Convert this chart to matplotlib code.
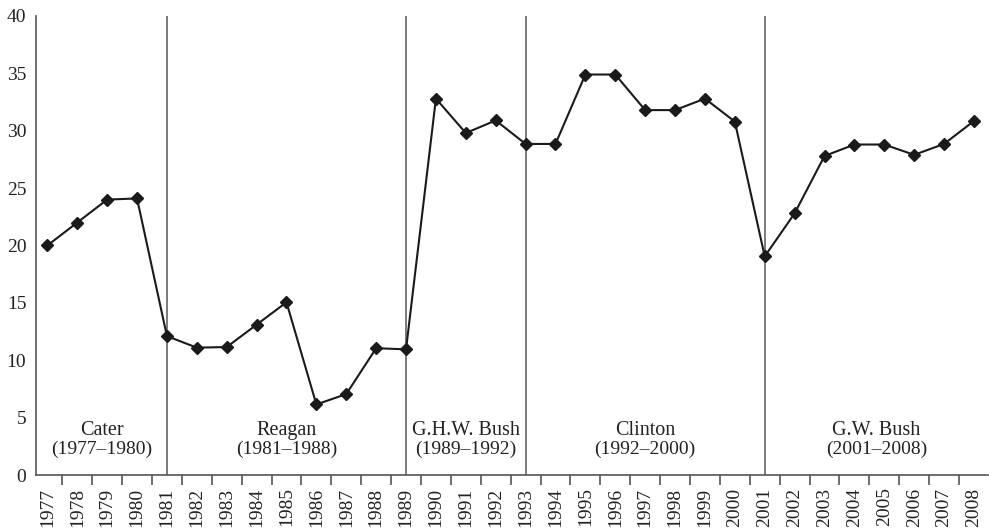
import matplotlib
matplotlib.use("Agg")
import matplotlib.pyplot as plt
import numpy as np

years = list(range(1977, 2009))
values = [20.0, 22.0, 24.0, 24.1,
          12.1, 11.1, 11.15, 13.1, 15.05, 6.15, 7.05, 11.05,
          10.95, 32.8, 29.8, 30.9,
          28.85, 28.85, 34.9, 34.9, 31.8, 31.8, 32.8, 30.8,
          19.05, 22.8, 27.8, 28.8, 28.8, 27.9, 28.85, 30.85]
boundaries = [1981, 1989, 1993, 2001]
presidents = ["Cater", "Reagan", "G.H.W. Bush", "Clinton", "G.W. Bush"]
terms = ["(1977–1980)", "(1981–1988)", "(1989–1992)", "(1992–2000)", "(2001–2008)"]
yticks = [0, 5, 10, 15, 20, 25, 30, 35, 40]

plt.rcParams['font.family'] = ['Liberation Serif', 'DejaVu Serif']

fig = plt.figure(figsize=(9.89, 5.30), dpi=100)
ax = fig.add_axes([36/989, 1-475/530, (988-36)/989, (475-16)/530])

xmin, xmax = 1976.62, 2008.47
ax.set_xlim(xmin, xmax)
ax.set_ylim(0, 40)

for b in boundaries:
    ax.plot([b, b], [0, 40], color='#707070', lw=1.3, zorder=1)

ax.plot(years, values, color='#1a1a1a', lw=1.5, marker='D', markersize=6,
        markerfacecolor='#1a1a1a', markeredgecolor='#1a1a1a', zorder=3)

edges = [xmin] + boundaries + [xmax]
for i, (name, term) in enumerate(zip(presidents, terms)):
    cx = (edges[i] + edges[i+1]) / 2
    ax.text(cx, 3.85, name, ha='center', va='center', fontsize=14.5, color='#222222')
    ax.text(cx, 2.2, term, ha='center', va='center', fontsize=14, color='#222222')

for s in ['top', 'right']:
    ax.spines[s].set_visible(False)
for s in ['left', 'bottom']:
    ax.spines[s].set_color('#555555')
    ax.spines[s].set_linewidth(1.2)

ax.set_yticks(yticks)
ax.set_yticklabels([str(v) for v in yticks], fontsize=14, color='#222222')
ax.tick_params(axis='y', length=0, pad=7)

ax.set_xticks(years)
ax.set_xticklabels([str(y) for y in years], rotation=90, fontsize=14, color='#222222')
ax.tick_params(axis='x', which='major', length=0, pad=9)
ax.set_xticks([y + 0.5 for y in years[:-1]], minor=True)
ax.tick_params(axis='x', which='minor', length=7, width=1.2, color='#555555', direction='out')

fig.savefig('out.png', dpi=100)
